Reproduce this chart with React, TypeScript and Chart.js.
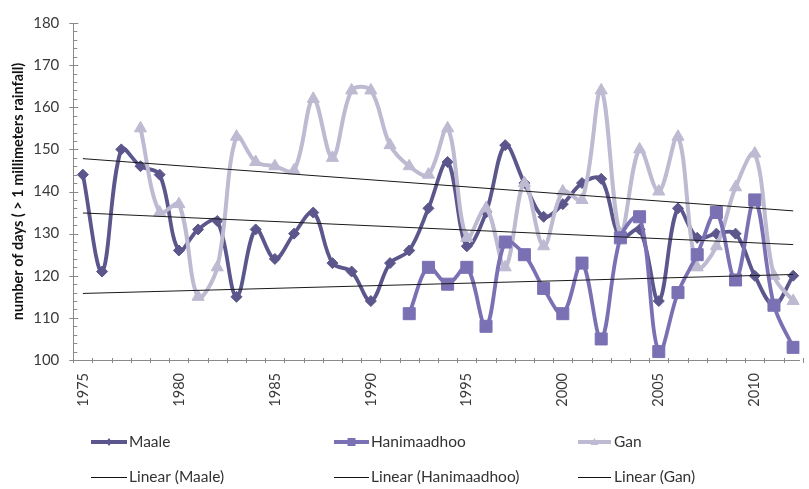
import React, { useEffect, useRef } from "react";
import { Chart, registerables } from "chart.js";

Chart.register(...registerables);

const years: number[] = [
  1975, 1976, 1977, 1978, 1979, 1980, 1981, 1982, 1983, 1984,
  1985, 1986, 1987, 1988, 1989, 1990, 1991, 1992, 1993, 1994,
  1995, 1996, 1997, 1998, 1999, 2000, 2001, 2002, 2003, 2004,
  2005, 2006, 2007, 2008, 2009, 2010, 2011, 2012,
];

const maale: (number | null)[] = [
  144, 121, 150, 146, 144, 126, 131, 133, 115, 131,
  124, 130, 135, 123, 121, 114, 123, 126, 136, 147,
  127, 135, 151, 142, 134, 137, 142, 143, 129, 131,
  114, 136, 129, 130, 130, 120, 113, 120,
];

const hanimaadhoo: (number | null)[] = [
  null, null, null, null, null, null, null, null, null, null,
  null, null, null, null, null, null, null, 111, 122, 118,
  122, 108, 128, 125, 117, 111, 123, 105, 129, 134,
  102, 116, 125, 135, 119, 138, 113, 103,
];

const gan: (number | null)[] = [
  null, null, null, 155, 135, 137, 115, 122, 153, 147,
  146, 145, 162, 148, 164, 164, 151, 146, 144, 155,
  129, 136, 122, 142, 127, 140, 138, 164, 130, 150,
  140, 153, 122, 127, 141, 149, 120, 114,
];

// trendline endpoint values (first year, last year)
const trendYears: number[] = [1975, 2012];
const trendMaale: number[] = [134.9, 127.4];
const trendHanimaadhoo: number[] = [115.8, 120.3];
const trendGan: number[] = [147.8, 135.4];

const xLabels: number[] = [1975, 1980, 1985, 1990, 1995, 2000, 2005, 2010];
const yTicks = { min: 100, max: 180, step: 10, minorStep: 2 };

const seriesNames = ["Maale", "Hanimaadhoo", "Gan"];
const trendNames = ["Linear (Maale)", "Linear (Hanimaadhoo)", "Linear (Gan)"];

const C_MAALE = "#5b568b";
const C_HANI = "#7a71b4";
const C_GAN = "#bdbad1";
const AXIS = "#8a8a8a";
const FONT = "Lato, 'Open Sans', sans-serif";

const toPoints = (vals: (number | null)[]) =>
  years.map((yr, i) => ({ x: yr, y: vals[i] }));
const toTrend = (vals: number[]) =>
  trendYears.map((yr, i) => ({ x: yr, y: vals[i] }));

const decorPlugin = {
  id: "decor",
  afterDraw(chart: any) {
    const ctx: CanvasRenderingContext2D = chart.ctx;
    const xs = chart.scales.x;
    const ys = chart.scales.y;
    const area = chart.chartArea;
    ctx.save();
    ctx.strokeStyle = AXIS;
    ctx.lineWidth = 1;
    // y ticks
    for (let v = yTicks.min; v <= yTicks.max; v += yTicks.minorStep) {
      const py = Math.round(ys.getPixelForValue(v)) + 0.5;
      const major = (v - yTicks.min) % yTicks.step === 0;
      ctx.beginPath();
      ctx.moveTo(area.left - (major ? 4 : 0), py);
      ctx.lineTo(area.left + (major ? 5 : 4), py);
      ctx.stroke();
    }
    // x ticks at category boundaries
    for (let i = 0; i <= years.length; i++) {
      const px = Math.round(xs.getPixelForValue(years[0] - 0.5 + i)) + 0.5;
      if (px > chart.width) break;
      ctx.beginPath();
      ctx.moveTo(px, area.bottom - 2);
      ctx.lineTo(px, area.bottom + 3);
      ctx.stroke();
    }
    // x labels rotated
    ctx.fillStyle = "#3a3a3a";
    ctx.font = `14.5px ${FONT}`;
    ctx.textAlign = "right";
    ctx.textBaseline = "middle";
    for (const yr of xLabels) {
      const px = xs.getPixelForValue(yr);
      ctx.save();
      ctx.translate(px, area.bottom + 13);
      ctx.rotate(-Math.PI / 2);
      ctx.fillText(String(yr), 0, 0);
      ctx.restore();
    }
    // legend
    const cols = [
      { x1: 91, x2: 127, tx: 129 },
      { x1: 334, x2: 369, tx: 371 },
      { x1: 578, x2: 611, tx: 614 },
    ];
    const colors = [C_MAALE, C_HANI, C_GAN];
    const styles = ["diamond", "square", "triangle"];
    const row1 = 442;
    const row2 = 477;
    ctx.font = `15.5px ${FONT}`;
    ctx.textAlign = "left";
    ctx.textBaseline = "middle";
    cols.forEach((c, i) => {
      ctx.strokeStyle = colors[i];
      ctx.lineWidth = 4;
      ctx.beginPath();
      ctx.moveTo(c.x1, row1);
      ctx.lineTo(c.x2, row1);
      ctx.stroke();
      const mx = (c.x1 + c.x2) / 2;
      ctx.fillStyle = colors[i];
      ctx.beginPath();
      if (styles[i] === "diamond") {
        ctx.moveTo(mx, row1 - 4);
        ctx.lineTo(mx + 3, row1);
        ctx.lineTo(mx, row1 + 4);
        ctx.lineTo(mx - 3, row1);
      } else if (styles[i] === "square") {
        ctx.rect(mx - 4, row1 - 4, 8, 8);
      } else {
        ctx.moveTo(mx, row1 - 4);
        ctx.lineTo(mx + 4, row1 + 3);
        ctx.lineTo(mx - 4, row1 + 3);
      }
      ctx.closePath();
      ctx.fill();
      ctx.fillStyle = "#333";
      ctx.fillText(seriesNames[i], c.tx, row1);
      ctx.strokeStyle = "#111";
      ctx.lineWidth = 1;
      ctx.beginPath();
      ctx.moveTo(c.x1, row2 + 0.5);
      ctx.lineTo(c.x2, row2 + 0.5);
      ctx.stroke();
      ctx.fillText(trendNames[i], c.tx, row2);
    });
    ctx.restore();
  },
};

export default function App() {
  const ref = useRef<HTMLCanvasElement | null>(null);
  useEffect(() => {
    if (!ref.current) return;
    const trendStyle = {
      borderColor: "#1a1a1a",
      borderWidth: 1,
      pointRadius: 0,
      tension: 0,
      fill: false,
      order: 0,
    };
    const chart = new Chart(ref.current, {
      type: "line",
      data: {
        datasets: [
          { label: trendNames[0], data: toTrend(trendMaale), ...trendStyle },
          { label: trendNames[1], data: toTrend(trendHanimaadhoo), ...trendStyle },
          { label: trendNames[2], data: toTrend(trendGan), ...trendStyle },
          {
            label: seriesNames[1],
            data: toPoints(hanimaadhoo),
            borderColor: C_HANI,
            backgroundColor: C_HANI,
            borderWidth: 3.8,
            pointStyle: "rect",
            pointRadius: 8.5,
            pointBorderWidth: 1,
            tension: 0.35,
            order: 1,
          },
          {
            label: seriesNames[2],
            data: toPoints(gan),
            borderColor: C_GAN,
            backgroundColor: C_GAN,
            borderWidth: 4,
            pointStyle: "triangle",
            pointRadius: 7,
            pointBorderWidth: 1,
            tension: 0.35,
            order: 2,
          },
          {
            label: seriesNames[0],
            data: toPoints(maale),
            borderColor: C_MAALE,
            backgroundColor: C_MAALE,
            borderWidth: 3.8,
            pointStyle: "rectRot",
            pointRadius: 5.5,
            pointBorderWidth: 1,
            tension: 0.35,
            order: 3,
          },
        ] as any,
      },
      options: {
        animation: false,
        responsive: false,
        layout: { padding: { left: 0, right: 0, top: 15, bottom: 0 } },
        plugins: { legend: { display: false }, tooltip: { enabled: false } },
        scales: {
          x: {
            type: "linear",
            min: years[0] - 0.5,
            max: 2012.33,
            grid: { display: false, drawTicks: false },
            border: { display: true, color: AXIS, width: 1 },
            ticks: { display: false },
            afterFit: (s: any) => {
              s.height = 129;
            },
          },
          y: {
            min: yTicks.min,
            max: yTicks.max,
            grid: { display: false, drawTicks: false },
            border: { display: true, color: AXIS, width: 1 },
            ticks: {
              stepSize: yTicks.step,
              padding: 14,
              color: "#3a3a3a",
              font: { family: FONT, size: 15 },
            },
            title: {
              display: true,
              text: "number of days ( > 1 millimeters rainfall)",
              color: "#111",
              font: { family: FONT, size: 14.5, weight: "bold" },
              padding: { top: 10, bottom: 0 },
            },
            afterFit: (s: any) => {
              s.width = 73.3;
            },
          },
        },
      },
      plugins: [decorPlugin],
    });
    return () => chart.destroy();
  }, []);
  return (
    <div style={{ position: "absolute", left: 0, top: 0, width: 809, height: 489, background: "#fff" }}>
      <canvas ref={ref} width={809} height={489} />
    </div>
  );
}
